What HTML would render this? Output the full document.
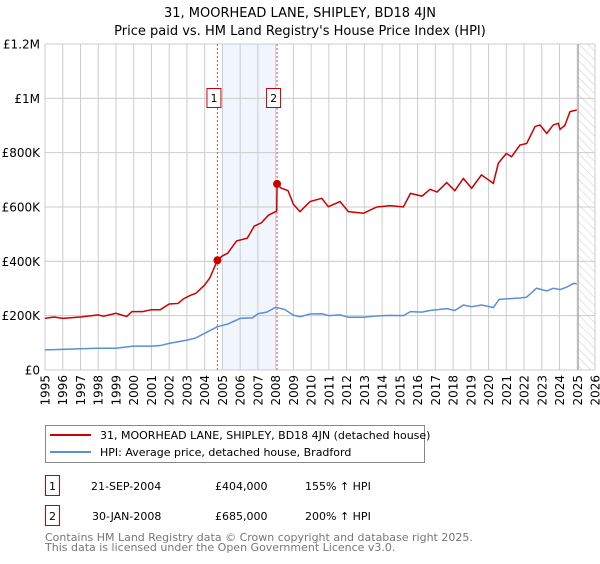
<!DOCTYPE html>
<html><head><meta charset="utf-8"><style>
body{margin:0;background:#fff;font-family:"DejaVu Sans","Liberation Sans",sans-serif;}
svg text{font-family:"DejaVu Sans","Liberation Sans",sans-serif;}
</style></head><body>
<svg id="c" width="600" height="560" xmlns="http://www.w3.org/2000/svg">
<defs><pattern id="hatch" width="6" height="6" patternUnits="userSpaceOnUse" patternTransform="rotate(-45)"><line x1="0" y1="0" x2="0" y2="6" stroke="#ccc" stroke-width="1"/></pattern></defs>
<text x="300" y="17" text-anchor="middle" font-size="13">31, MOORHEAD LANE, SHIPLEY, BD18 4JN</text>
<text x="300" y="35" text-anchor="middle" font-size="13">Price paid vs. HM Land Registry's House Price Index (HPI)</text>
<g id="plot"></g>
<rect x="45.5" y="425.5" width="379" height="37" fill="#fff" stroke="#888"/>
<line x1="50" y1="435" x2="91" y2="435" stroke="#cc0000" stroke-width="2"/>
<text x="100" y="439" font-size="11">31, MOORHEAD LANE, SHIPLEY, BD18 4JN (detached house)</text>
<line x1="50" y1="452" x2="91" y2="452" stroke="#5b8fd4" stroke-width="2"/>
<text x="100" y="456" font-size="11">HPI: Average price, detached house, Bradford</text>
<g font-size="11">
<rect x="45.5" y="475.5" width="14" height="20" fill="#fff" stroke="#cc0000"/><text x="52.5" y="490" text-anchor="middle">1</text>
<text x="91" y="490">21-SEP-2004</text><text x="215" y="490">£404,000</text><text x="305" y="490">155% ↑ HPI</text></g>
<g font-size="11">
<rect x="45.5" y="505.5" width="14" height="20" fill="#fff" stroke="#cc0000"/><text x="52.5" y="520" text-anchor="middle">2</text>
<text x="92" y="520">30-JAN-2008</text><text x="215" y="520">£685,000</text><text x="305" y="520">200% ↑ HPI</text></g>
<text x="45" y="541" font-size="11" fill="#777">Contains HM Land Registry data © Crown copyright and database right 2025.</text>
<text x="45" y="551" font-size="11" fill="#777">This data is licensed under the Open Government Licence v3.0.</text>
</svg>
<script>
const yTicks=[0,200000,400000,600000,800000,1000000,1200000];
const yTickLabels=["£0","£200K","£400K","£600K","£800K","£1M","£1.2M"];
const xYears=[1995,1996,1997,1998,1999,2000,2001,2002,2003,2004,2005,2006,2007,2008,2009,2010,2011,2012,2013,2014,2015,2016,2017,2018,2019,2020,2021,2022,2023,2024,2025,2026];
const propDates=[1995,1995.5,1996,1997,1998,1998.3,1999,1999.6,1999.9,2000.5,2001,2001.5,2002,2002.5,2002.8,2003.2,2003.5,2004,2004.3,2004.72,2005,2005.3,2005.8,2006.4,2006.8,2007.2,2007.6,2008.06,2008.08,2008.3,2008.7,2009,2009.37,2009.94,2010.6,2010.97,2011.63,2012.1,2012.95,2013.7,2014.45,2015.2,2015.6,2016.25,2016.7,2017.1,2017.64,2018.1,2018.58,2019.05,2019.6,2020.27,2020.55,2021,2021.3,2021.77,2022.15,2022.62,2022.9,2023.28,2023.65,2023.93,2024.03,2024.3,2024.59,2024.97];
const propValues=[190000,195000,190000,195000,203000,198000,209000,197000,215000,215000,222000,222000,243000,245000,262000,275000,282000,313000,340000,404000,420000,430000,475000,485000,530000,542000,570000,585000,685000,670000,660000,610000,583000,620000,632000,601000,620000,583000,577000,600000,605000,600000,650000,640000,665000,655000,690000,660000,705000,669000,718000,687000,761000,797000,785000,828000,834000,896000,902000,871000,902000,908000,886000,900000,951000,957000];
const hpiDates=[1995,1996,1997,1998,1999,2000,2001,2001.5,2002,2003,2003.5,2004,2004.7,2005.3,2006,2006.7,2007,2007.5,2008,2008.5,2009,2009.37,2009.94,2010.6,2011.0,2011.63,2012.1,2012.95,2013.7,2014.45,2015.2,2015.6,2016.25,2016.7,2017.64,2018.1,2018.58,2019.05,2019.6,2020.27,2020.6,2021,2021.77,2022.15,2022.7,2023.28,2023.65,2024.03,2024.4,2024.8,2024.97];
const hpiValues=[74000,76000,78000,80000,80000,88000,88000,90000,98000,110000,118000,135000,159000,169000,190000,192000,207000,213000,231000,223000,202000,196000,206000,207000,200000,203000,194000,194000,199000,201000,200000,215000,213000,219000,226000,219000,239000,233000,239000,230000,260000,262000,265000,268000,301000,291000,301000,296000,305000,319000,317000];
const sales=[{d:2004.72,v:404000,n:"1"},{d:2008.08,v:685000,n:"2"}];
const L=45,R=595,T=44,B=370,x0=1995,x1=2026,yMax=1200000;
const X=d=>L+(d-x0)/(x1-x0)*(R-L);
const Y=v=>B-v/yMax*(B-T);
const NS="http://www.w3.org/2000/svg",g=document.getElementById('plot');
function mk(t,a,p){const e=document.createElementNS(NS,t);for(const k in a)e.setAttribute(k,a[k]);(p||g).appendChild(e);return e;}
let e;
e=mk('rect',{x:X(2005),y:T,width:X(2008.08)-X(2005),height:B-T,fill:'#eef3fc',opacity:0.8});


e=mk('rect',{x:X(2025.05),y:T,width:R-X(2025.05),height:B-T,fill:'url(#hatch)'});


xYears.forEach(yr=>{
 e=mk('line',{x1:X(yr),x2:X(yr),y1:T,y2:B,stroke:'#ccc'});
 
 
 e=mk('text',{x:0,y:0,'font-size':12,'text-anchor':'end',transform:`translate(${X(yr)+4.5},375) rotate(-90)`});
 e.textContent=yr;
 
 
});
yTicks.forEach((v,i)=>{
 e=mk('line',{x1:L,x2:R,y1:Y(v),y2:Y(v),stroke:'#ccc'});
 
 
 e=mk('text',{x:40,y:Y(v)+4.5,'font-size':12,'text-anchor':'end'});
 e.textContent=yTickLabels[i];
 
 
});
e=mk('line',{x1:X(2025.05),x2:X(2025.05),y1:T,y2:B,stroke:'#999','stroke-width':1});


sales.forEach(s=>{
 e=mk('line',{x1:X(s.d),x2:X(s.d),y1:T,y2:B,stroke:'#e55','stroke-dasharray':'2,2'});
 
 
});
e=mk('polyline',{points:hpiDates.map((d,i)=>X(d)+','+Y(hpiValues[i])).join(' '),fill:'none',stroke:'#5b8fd4','stroke-width':1.5});


e=mk('polyline',{points:propDates.map((d,i)=>X(d)+','+Y(propValues[i])).join(' '),fill:'none',stroke:'#cc0000','stroke-width':1.5});


sales.forEach(s=>{
 e=mk('circle',{cx:X(s.d),cy:Y(s.v),r:4,fill:'#cc0000'});
 
 
 e=mk('rect',{x:X(s.d)-10.5,y:88.5,width:14,height:19,fill:'#fff',stroke:'#cc0000'});
 
 
 e=mk('text',{x:X(s.d)-3.5,y:102,'font-size':11,'text-anchor':'middle'});
 e.textContent=s.n;
 
 
});
</script>
</body></html>
